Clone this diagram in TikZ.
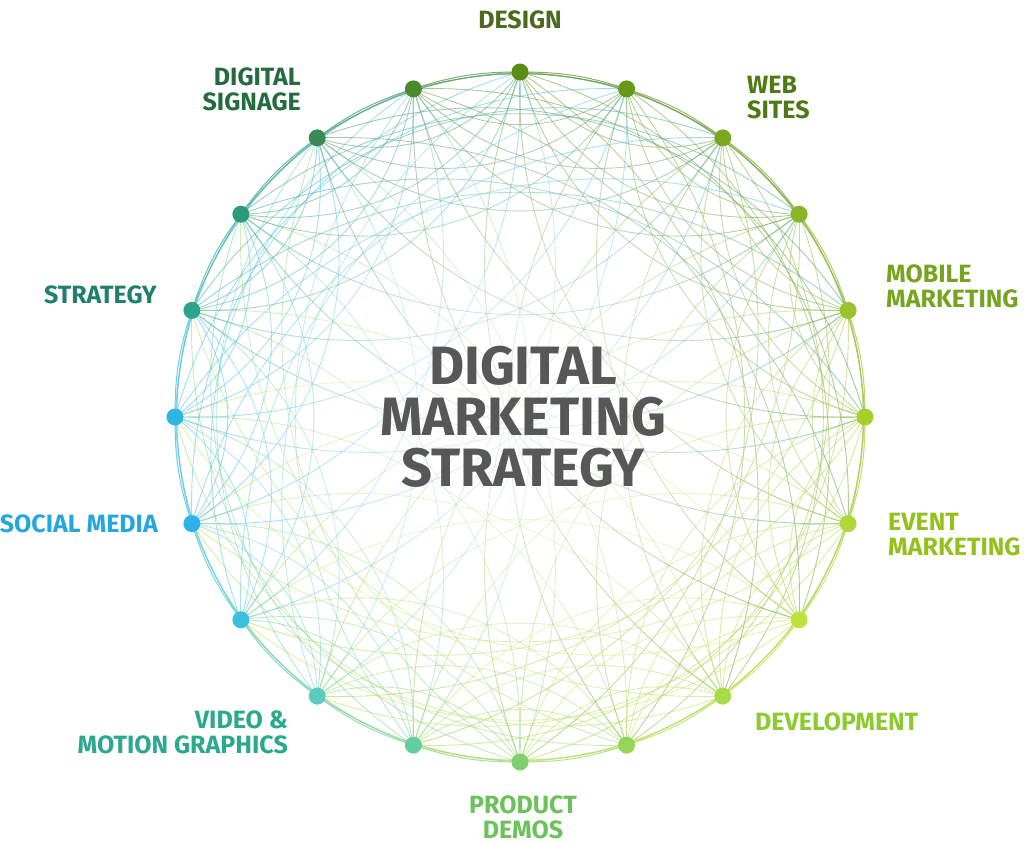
\documentclass[tikz,border=0pt]{standalone}
\usepackage{fontspec}
\setmainfont{Fira Sans}
\usetikzlibrary{fadings}

% dot colours, clockwise from the top
\definecolor{c0}{HTML}{5B8C14}
\definecolor{c1}{HTML}{689A18}
\definecolor{c2}{HTML}{79A81E}
\definecolor{c3}{HTML}{89B626}
\definecolor{c4}{HTML}{99C52A}
\definecolor{c5}{HTML}{A5CF2C}
\definecolor{c6}{HTML}{B0D838}
\definecolor{c7}{HTML}{BFE33A}
\definecolor{c8}{HTML}{A8DB4A}
\definecolor{c9}{HTML}{94D65A}
\definecolor{c10}{HTML}{7ECF70}
\definecolor{c11}{HTML}{66CDA0}
\definecolor{c12}{HTML}{5CCBC0}
\definecolor{c13}{HTML}{3CC0E0}
\definecolor{c14}{HTML}{30B0EC}
\definecolor{c15}{HTML}{2EB6E2}
\definecolor{c16}{HTML}{2AA48C}
\definecolor{c17}{HTML}{2A9A7A}
\definecolor{c18}{HTML}{3A8A58}
\definecolor{c19}{HTML}{4A8A2A}
% label colours
\definecolor{tdesign}{HTML}{4A6A1C}
\definecolor{tweb}{HTML}{4E7A16}
\definecolor{tmobile}{HTML}{76A41E}
\definecolor{tevent}{HTML}{92C11C}
\definecolor{tdevel}{HTML}{8BCB2E}
\definecolor{tproduct}{HTML}{6CC25A}
\definecolor{tvideo}{HTML}{2AA98E}
\definecolor{tsocial}{HTML}{26A6DE}
\definecolor{tstrategy}{HTML}{217F70}
\definecolor{tsignage}{HTML}{256B40}

\tikzfading[name=glow,inner color=transparent!0,outer color=transparent!100]

\begin{document}
\begin{tikzpicture}
  [x=1pt,y=1pt,
   dot/.style={circle,inner sep=0pt,minimum size=17pt},
   web/.style={line width=0.9pt,draw opacity=0.55},
   rim/.style={line width=1pt,draw opacity=0.8},
   lbl/.style={font=\fontsize{25}{25}\selectfont\bfseries,inner sep=0pt},
   centre/.style={font=\fontsize{54}{51}\selectfont\bfseries,align=center,inner sep=0pt}]
  \useasboundingbox (-520,-427) rectangle (504,417);

  \foreach \i in {0,...,19}
    \coordinate (d\i) at ({90-18*\i}:345);

  % the web of curves
  \foreach \i in {0,...,19} {
    \foreach \k in {2,3} {
      \pgfmathtruncatemacro\j{mod(\i+\k,20)}
      \draw[web,color=c\i] (d\i) to[bend right=35] (d\j);
    }
    \foreach \k/\b in {4/33,6/38,8/38} {
      \pgfmathtruncatemacro\j{mod(\i+\k,20)}
      \draw[web,color=c\i] (d\i) to[bend left=\b] (d\j);
      \draw[web,color=c\i] (d\i) to[bend right=38] (d\j);
    }
  }
  \foreach \i in {0,...,19} {
    \pgfmathtruncatemacro\j{mod(\i+1,20)}
    \draw[rim,color=c\i] (d\i) to[bend left=9] (d\j);
  }

  % light in the middle
  \fill[white,path fading=glow,fill opacity=0.8] (0,0) circle (420);

  \foreach \i in {0,...,19}
    \node[dot,fill=c\i] (n\i) at (d\i) {};

  \node[lbl,text=tdesign] (design) at (0,397) {DESIGN};
  \node[lbl,text=tweb,align=left,anchor=west] (web) at (227,319) {WEB\\SITES};
  \node[lbl,text=tmobile,align=left,anchor=west] (mobile) at (366,131) {MOBILE\\MARKETING};
  \node[lbl,text=tevent,align=left,anchor=west] (event) at (368,-118) {EVENT\\MARKETING};
  \node[lbl,text=tdevel,anchor=west] (devel) at (235,-305) {DEVELOPMENT};
  \node[lbl,text=tproduct,align=center] (product) at (3,-400) {PRODUCT\\DEMOS};
  \node[lbl,text=tvideo,align=right,anchor=east] (video) at (-232,-315) {VIDEO \&\\MOTION GRAPHICS};
  \node[lbl,text=tsocial,anchor=east] (social) at (-362,-107) {SOCIAL MEDIA};
  \node[lbl,text=tstrategy,anchor=east] (strategy) at (-363,122) {STRATEGY};
  \node[lbl,text=tsignage,align=right,anchor=east] (signage) at (-219,328) {DIGITAL\\SIGNAGE};

  \node[centre,text=black!66] (title) at (3,0) {DIGITAL\\MARKETING\\STRATEGY};
\end{tikzpicture}
\end{document}
